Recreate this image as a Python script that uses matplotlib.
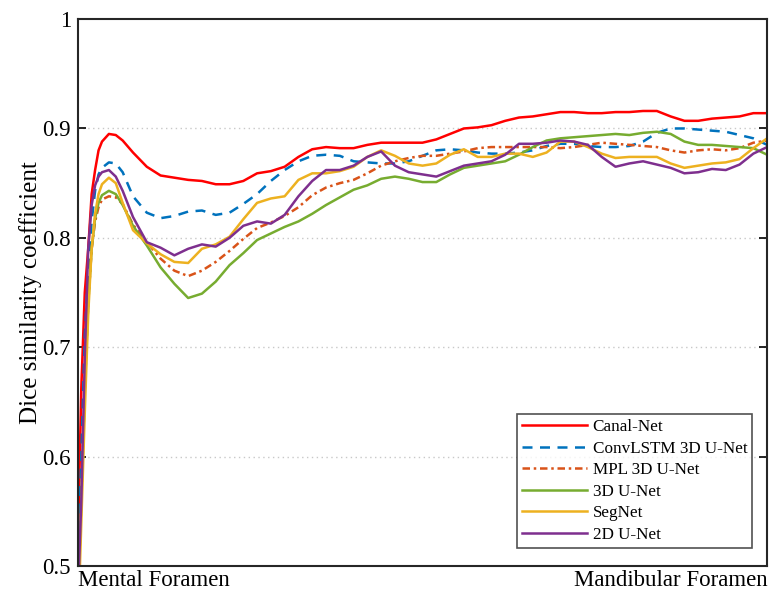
import matplotlib
matplotlib.use("Agg")
import matplotlib.pyplot as plt

plt.rcParams['font.family'] = ['Liberation Serif', 'DejaVu Serif']

# slice position along the canal (percent, Mental -> Mandibular foramen)
pos = [0, 0.5, 1, 1.5, 2, 2.5, 3, 3.5, 4.5, 5.5, 6.5,
       8, 10, 12, 14, 16, 18, 20, 22, 24, 26, 28, 30, 32, 34, 36, 38, 40,
       42, 44, 46, 48, 50, 52, 54, 56, 58, 60, 62, 64, 66, 68, 70, 72, 74,
       76, 78, 80, 82, 84, 86, 88, 90, 92, 94, 96, 98, 100]

canal_net = [0.52, 0.663, 0.75, 0.79, 0.84, 0.862, 0.880, 0.888, 0.895, 0.894, 0.889,
             0.878, 0.865, 0.857, 0.855, 0.853, 0.852, 0.849, 0.849, 0.852, 0.859, 0.861,
             0.865, 0.874, 0.881, 0.883, 0.882, 0.882, 0.885, 0.887, 0.887, 0.887, 0.887,
             0.890, 0.895, 0.900, 0.901, 0.903, 0.907, 0.910, 0.911, 0.913, 0.915, 0.915,
             0.914, 0.914, 0.915, 0.915, 0.916, 0.916, 0.911, 0.907, 0.907, 0.909, 0.910,
             0.911, 0.914, 0.914]

convlstm = [0.50, 0.60, 0.71, 0.77, 0.815, 0.843, 0.858, 0.864, 0.869, 0.868, 0.860,
            0.838, 0.823, 0.818, 0.820, 0.824, 0.825, 0.821, 0.823, 0.831, 0.840, 0.852,
            0.862, 0.870, 0.875, 0.876, 0.875, 0.870, 0.869, 0.868, 0.868, 0.870, 0.875,
            0.880, 0.881, 0.880, 0.878, 0.877, 0.877, 0.878, 0.880, 0.884, 0.886, 0.886,
            0.884, 0.883, 0.883, 0.884, 0.888, 0.896, 0.900, 0.900, 0.899, 0.898, 0.897,
            0.894, 0.891, 0.885]

mpl_unet = [0.46, 0.56, 0.66, 0.74, 0.79, 0.815, 0.828, 0.835, 0.838, 0.837, 0.831,
            0.812, 0.796, 0.781, 0.770, 0.765, 0.770, 0.778, 0.788, 0.799, 0.809, 0.814,
            0.820, 0.828, 0.839, 0.846, 0.850, 0.853, 0.859, 0.866, 0.870, 0.873, 0.875,
            0.875, 0.877, 0.879, 0.882, 0.883, 0.883, 0.883, 0.883, 0.883, 0.882, 0.883,
            0.885, 0.887, 0.886, 0.885, 0.884, 0.883, 0.880, 0.878, 0.880, 0.881, 0.880,
            0.882, 0.887, 0.889]

unet3d = [0.46, 0.56, 0.66, 0.74, 0.79, 0.818, 0.832, 0.839, 0.843, 0.840, 0.830,
          0.811, 0.793, 0.773, 0.758, 0.745, 0.749, 0.760, 0.775, 0.786, 0.798, 0.804,
          0.810, 0.815, 0.822, 0.830, 0.837, 0.844, 0.848, 0.854, 0.856, 0.854, 0.851,
          0.851, 0.858, 0.864, 0.866, 0.868, 0.870, 0.876, 0.883, 0.889, 0.891, 0.892,
          0.893, 0.894, 0.895, 0.894, 0.896, 0.897, 0.895, 0.888, 0.885, 0.885, 0.884,
          0.883, 0.882, 0.876]

segnet = [0.44, 0.54, 0.64, 0.73, 0.79, 0.822, 0.840, 0.849, 0.855, 0.850, 0.832,
          0.807, 0.795, 0.785, 0.778, 0.777, 0.790, 0.794, 0.801, 0.817, 0.832, 0.836,
          0.838, 0.853, 0.859, 0.859, 0.861, 0.865, 0.874, 0.880, 0.875, 0.868, 0.866,
          0.868, 0.876, 0.881, 0.874, 0.874, 0.877, 0.877, 0.874, 0.878, 0.888, 0.888,
          0.883, 0.877, 0.873, 0.874, 0.874, 0.874, 0.868, 0.864, 0.866, 0.868, 0.869,
          0.872, 0.882, 0.891]

unet2d = [0.47, 0.56, 0.69, 0.79, 0.83, 0.848, 0.856, 0.860, 0.862, 0.856, 0.843,
          0.819, 0.796, 0.791, 0.784, 0.790, 0.794, 0.792, 0.800, 0.811, 0.815, 0.813,
          0.821, 0.838, 0.852, 0.862, 0.862, 0.866, 0.874, 0.879, 0.866, 0.860, 0.858,
          0.856, 0.861, 0.866, 0.868, 0.870, 0.876, 0.886, 0.886, 0.887, 0.889, 0.888,
          0.885, 0.874, 0.865, 0.868, 0.870, 0.867, 0.864, 0.859, 0.860, 0.863, 0.862,
          0.867, 0.877, 0.883]

labels = ['Canal-Net', 'ConvLSTM 3D U-Net', 'MPL 3D U-Net', '3D U-Net', 'SegNet', '2D U-Net']
series = [canal_net, convlstm, mpl_unet, unet3d, segnet, unet2d]
colors = ['#FF0000', '#0072BD', '#D95319', '#77AC30', '#EDB120', '#7E2F8E']
styles = ['-', (0, (4, 3)), (0, (3, 1.5, 1, 1.5)), '-', '-', '-']

y_ticks = [0.5, 0.6, 0.7, 0.8, 0.9, 1.0]
y_tick_labels = ['0.5', '0.6', '0.7', '0.8', '0.9', '1']
x_tick_labels = ['Mental Foramen', 'Mandibular Foramen']

fig = plt.figure(figsize=(7.71, 5.97), dpi=100)
ax = fig.add_axes([0.101, 0.052, 0.894, 0.916])

for vals, lab, c, ls in zip(series, labels, colors, styles):
    ax.plot(pos, vals, color=c, linestyle=ls, linewidth=1.8, label=lab)

ax.set_xlim(0, 100)
ax.set_ylim(0.5, 1.0)
ax.set_yticks(y_ticks)
ax.set_yticklabels(y_tick_labels, fontsize=16.5)
ax.set_xticks([0, 100])
ax.set_xticklabels(x_tick_labels, fontsize=16.5)
xl = ax.get_xticklabels()
xl[0].set_horizontalalignment('left')
xl[1].set_horizontalalignment('right')
ax.tick_params(axis='x', length=0, pad=3)
ax.tick_params(axis='y', direction='in', length=6, width=1.2, right=True, pad=5)
ax.set_ylabel('Dice similarity coefficient', fontsize=18, labelpad=0)

for y in [0.6, 0.7, 0.8, 0.9]:
    ax.axhline(y, color='#c8c8c8', linestyle=(0, (1, 2.5)), linewidth=1.0, zorder=0)

for sp in ax.spines.values():
    sp.set_linewidth(1.5)
    sp.set_color('#262626')

leg = ax.legend(loc='lower right', fontsize=12.3, handlelength=3.85, frameon=True,
                fancybox=False, borderpad=0.3, labelspacing=0.32, handletextpad=0.3,
                borderaxespad=0.0, bbox_to_anchor=(0.9785, 0.033))
leg.get_frame().set_edgecolor('#262626')
leg.get_frame().set_linewidth(1.2)

fig.savefig('out.png', dpi=100)
